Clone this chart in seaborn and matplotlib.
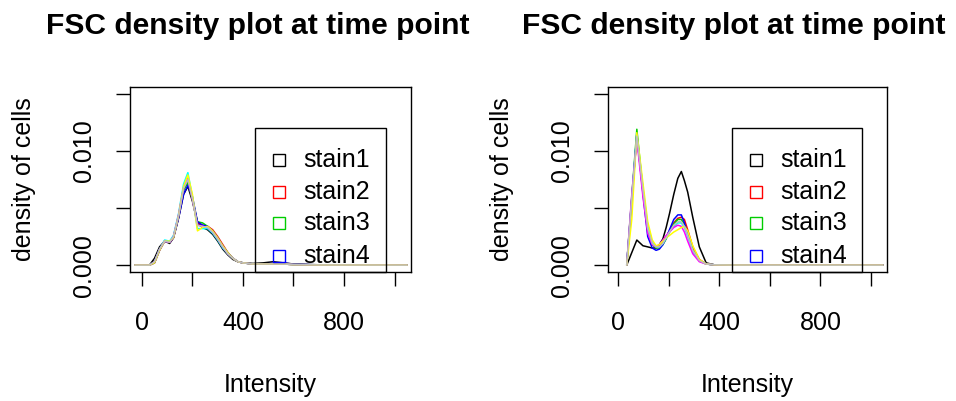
import matplotlib
matplotlib.use("Agg")
import matplotlib.pyplot as plt
import seaborn as sns
import pandas as pd
from matplotlib.patches import Rectangle

# ---------------- data ----------------
stain_labels = ["stain1", "stain2", "stain3", "stain4"]
series_colors = ["#000000", "#FF0000", "#00CD00", "#0000FF",
                 "#00FFFF", "#FF00FF", "#FFFF00", "#BEBEBE"]

left_x = [-28, 30, 50, 70, 90, 110, 125, 145, 165, 182, 200, 220, 240, 260, 280,
          300, 320, 340, 360, 380, 400, 440, 480, 520, 560, 600, 700, 850, 1050]
left_s1 = [0, 0, 0.0006, 0.0016, 0.0021, 0.0019, 0.0024, 0.0041, 0.0062, 0.0069, 0.0056, 0.0037, 0.0033, 0.0031, 0.0027,
           0.0021, 0.0014, 0.0009, 0.0005, 0.0003, 0.0002, 0.00015, 0.0002, 0.0003, 0.0002, 0.0001, 0.00003, 0.00001, 0]
left_s2 = [0, 0, 0.0002, 0.0013, 0.0021, 0.0020, 0.0024, 0.0042, 0.0066, 0.0073, 0.0058, 0.0037, 0.0035, 0.0034, 0.0031,
           0.0025, 0.0018, 0.0011, 0.0006, 0.0003, 0.0002, 0.0001, 0.0001, 0.0001, 0.0001, 0.00005, 0.00002, 0.00001, 0]
left_s3 = [0, 0, 0.0003, 0.0014, 0.0021, 0.0020, 0.0025, 0.0043, 0.0066, 0.0072, 0.0058, 0.0038, 0.0037, 0.0034, 0.0029,
           0.0023, 0.0016, 0.0010, 0.0006, 0.0003, 0.0002, 0.0001, 0.0001, 0.0001, 0.0001, 0.00005, 0.00002, 0.00001, 0]
left_s4 = [0, 0, 0.0002, 0.0013, 0.0021, 0.0020, 0.0024, 0.0041, 0.0062, 0.0070, 0.0060, 0.0038, 0.0035, 0.0034, 0.0030,
           0.0024, 0.0017, 0.0011, 0.0006, 0.0003, 0.0002, 0.0001, 0.0001, 0.00015, 0.0002, 0.00008, 0.00002, 0.00001, 0]
left_s5 = [0, 0, 0.0003, 0.0014, 0.0022, 0.0021, 0.0026, 0.0045, 0.0071, 0.0081, 0.0060, 0.0032, 0.0032, 0.0032, 0.0028,
           0.0022, 0.0015, 0.0010, 0.0006, 0.0003, 0.0002, 0.0001, 0.0001, 0.0001, 0.0001, 0.00005, 0.00002, 0.00001, 0]
left_s6 = [0, 0, 0.0003, 0.0014, 0.0021, 0.0020, 0.0025, 0.0044, 0.0068, 0.0076, 0.0058, 0.0035, 0.0034, 0.0033, 0.0029,
           0.0023, 0.0016, 0.0010, 0.0006, 0.0003, 0.0002, 0.0001, 0.0001, 0.0001, 0.0001, 0.00005, 0.00002, 0.00001, 0]
left_s7 = [0, 0, 0.0002, 0.0013, 0.0021, 0.0021, 0.0024, 0.0043, 0.0069, 0.0079, 0.0062, 0.0030, 0.0033, 0.0034, 0.0030,
           0.0024, 0.0017, 0.0011, 0.0006, 0.0003, 0.0002, 0.0001, 0.0001, 0.0001, 0.0001, 0.00005, 0.00002, 0.00001, 0]
left_s8 = [0, 0, 0.0003, 0.0014, 0.0021, 0.0020, 0.0025, 0.0043, 0.0067, 0.0075, 0.0058, 0.0035, 0.0034, 0.0033, 0.0029,
           0.0023, 0.0016, 0.0010, 0.0006, 0.0003, 0.0002, 0.0001, 0.0001, 0.0001, 0.0001, 0.00005, 0.00002, 0.00001, 0]

right_x = [34, 54, 74, 98, 117, 135, 150, 163, 177, 190, 203, 220, 236, 250, 262, 275,
           295, 321, 348, 380, 450, 600, 800, 1047]
right_s1 = [0, 0.0011, 0.0022, 0.0017, 0.0016, 0.0015, 0.0015, 0.0018, 0.0023, 0.0033, 0.0045, 0.0062, 0.0076, 0.0082, 0.0074, 0.0064,
            0.0042, 0.0016, 0.0002, 0.00003, 0.00001, 0, 0, 0]
right_s2 = [0, 0.0057, 0.0113, 0.0065, 0.0030, 0.0018, 0.0016, 0.0017, 0.0020, 0.0025, 0.0030, 0.0037, 0.0041, 0.0042, 0.0040, 0.0031,
            0.0016, 0.0005, 0.0001, 0.00003, 0.00001, 0, 0, 0]
right_s3 = [0, 0.0060, 0.0119, 0.0066, 0.0030, 0.0018, 0.0015, 0.0015, 0.0018, 0.0023, 0.0029, 0.0036, 0.0040, 0.0040, 0.0036, 0.0027,
            0.0013, 0.0004, 0.0001, 0.00003, 0.00001, 0, 0, 0]
right_s4 = [0, 0.0058, 0.0115, 0.0063, 0.0025, 0.0015, 0.0013, 0.0014, 0.0018, 0.0024, 0.0031, 0.0040, 0.0044, 0.0044, 0.0037, 0.0027,
            0.0013, 0.0004, 0.0001, 0.00003, 0.00001, 0, 0, 0]
right_s5 = [0, 0.0058, 0.0114, 0.0068, 0.0035, 0.0020, 0.0016, 0.0016, 0.0019, 0.0024, 0.0029, 0.0034, 0.0037, 0.0037, 0.0033, 0.0025,
            0.0012, 0.0004, 0.0001, 0.00003, 0.00001, 0, 0, 0]
right_s6 = [0, 0.0062, 0.0110, 0.0060, 0.0028, 0.0018, 0.0016, 0.0018, 0.0022, 0.0026, 0.0029, 0.0033, 0.0035, 0.0034, 0.0029, 0.0021,
            0.0010, 0.0003, 0.0001, 0.00003, 0.00001, 0, 0, 0]
right_s7 = [0, 0.0040, 0.0116, 0.0072, 0.0038, 0.0022, 0.0017, 0.0018, 0.0021, 0.0024, 0.0026, 0.0029, 0.0031, 0.0033, 0.0034, 0.0030,
            0.0017, 0.0005, 0.0001, 0.00003, 0.00001, 0, 0, 0]
right_s8 = [0, 0.0059, 0.0113, 0.0066, 0.0032, 0.0019, 0.0016, 0.0016, 0.0019, 0.0024, 0.0029, 0.0035, 0.0038, 0.0038, 0.0034, 0.0026,
            0.0013, 0.0004, 0.0001, 0.00003, 0.00001, 0, 0, 0]

x_ticks = [0, 200, 400, 600, 800, 1000]
x_ticklabels = ["0", "", "400", "", "800", ""]
y_ticks = [0.0, 0.005, 0.010, 0.015]
y_ticklabels = ["0.000", "", "0.010", ""]
title_text = "FSC density plot at time point"
xlabel_text = "Intensity"
ylabel_text = "density of cells"

# ---------------- style ----------------
sns.set_style("white")
plt.rcParams["font.family"] = ["Liberation Sans", "DejaVu Sans"]
plt.rcParams["axes.linewidth"] = 1.0
plt.rcParams["text.color"] = "black"
plt.rcParams["axes.labelcolor"] = "black"
plt.rcParams["xtick.color"] = "black"
plt.rcParams["ytick.color"] = "black"
plt.rcParams["xtick.labelcolor"] = "black"
plt.rcParams["ytick.labelcolor"] = "black"

W, H = 956, 401
fig = plt.figure(figsize=(W / 100, H / 100), dpi=100)

panels = [
    dict(x=left_x, ys=[left_s1, left_s2, left_s3, left_s4, left_s5, left_s6, left_s7, left_s8],
         box=(130, 411), xlim=(-47, 1065), title_cx=258),
    dict(x=right_x, ys=[right_s1, right_s2, right_s3, right_s4, right_s5, right_s6, right_s7, right_s8],
         box=(608, 887), xlim=(-40, 1063), title_cx=734),
]
top_px, bot_px = 87, 272
FS = 18
for p in panels:
    l, r = p["box"]
    ax = fig.add_axes([l / W, 1 - bot_px / H, (r - l) / W, (bot_px - top_px) / H])
    for ys, col in zip(p["ys"], series_colors):
        df = pd.DataFrame({"x": p["x"], "y": ys})
        sns.lineplot(data=df, x="x", y="y", color=col, linewidth=1.1, ax=ax,
                     estimator=None, sort=False)
    ax.set_xlim(*p["xlim"])
    ax.set_ylim(-0.0006, 0.0156)
    ax.set_xticks(x_ticks)
    ax.set_xticklabels(x_ticklabels, fontsize=FS, color="black")
    ax.set_yticks(y_ticks)
    ax.set_yticklabels(y_ticklabels, fontsize=FS, rotation=90, va="center", color="black")
    ax.tick_params(axis="both", direction="out", length=10, width=1, color="black",
                   bottom=True, left=True)
    ax.tick_params(axis="x", pad=18.3)
    ax.tick_params(axis="y", pad=14.5)
    for s in ax.spines.values():
        s.set_color("black")
        s.set_linewidth(1.0)
    ax.set_xlabel(xlabel_text, fontsize=FS, labelpad=27, color="black")
    ax.set_ylabel(ylabel_text, fontsize=FS, labelpad=25.7, color="black")
    # legend drawn as in base-R legend()
    lx0 = 0.445
    lx1 = 0.911
    ax.add_patch(Rectangle((lx0, 0.0), lx1 - lx0, 0.778, transform=ax.transAxes,
                           fill=False, edgecolor="black",
                           linewidth=1.0, zorder=5, clip_on=False))
    for i, lab in enumerate(stain_labels):
        yy = [0.605, 0.432, 0.265, 0.086][i]
        ax.plot([0.530], [yy], marker="s", markersize=8.5, markerfacecolor="none",
                markeredgecolor=series_colors[i], markeredgewidth=1.0,
                transform=ax.transAxes, zorder=6, clip_on=False)
        ax.text(0.616, yy, lab, transform=ax.transAxes, fontsize=FS,
                va="center", ha="left", zorder=6, color="black")
    fig.text(p["title_cx"] / W, 1 - 34 / H, title_text, fontsize=21.6,
             fontweight="bold", ha="center", va="baseline", color="black")

fig.savefig("out.png", dpi=100, facecolor="white")
